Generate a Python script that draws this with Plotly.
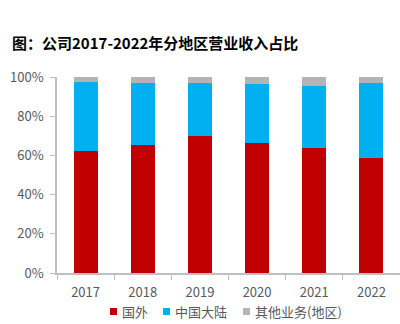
import plotly.graph_objects as go

years = ["2017", "2018", "2019", "2020", "2021", "2022"]
overseas = [0.624, 0.653, 0.699, 0.662, 0.639, 0.585]
mainland = [0.352, 0.317, 0.271, 0.304, 0.317, 0.386]
other = [0.024, 0.030, 0.030, 0.034, 0.044, 0.029]

names = ["国外", "中国大陆", "其他业务(地区)"]
colors = ["#C00000", "#00B0F0", "#B4B4B4"]

font_family = "Noto Sans CJK SC, Open Sans, sans-serif"

fig = go.Figure()
for vals, name, color in zip([overseas, mainland, other], names, colors):
    fig.add_trace(go.Bar(x=years, y=vals, name=name, marker=dict(color=color, line=dict(width=0)),
                         showlegend=False))

# manual legend (compact, like the reference)
legend_x = [110, 163, 243]  # left edge of each square, px
for lx, name, color in zip(legend_x, names, colors):
    fig.add_shape(type="rect", xref="paper", yref="paper",
                  x0=(lx - 57) / 343, x1=(lx + 7 - 57) / 343,
                  y0=(273 - 315) / 196, y1=(273 - 308) / 196,
                  fillcolor=color, line=dict(width=0))
    fig.add_annotation(text=name, xref="paper", yref="paper", x=(lx + 10 - 57) / 343,
                       y=(273 - 311) / 196, xanchor="left", yanchor="middle", showarrow=False,
                       font=dict(size=13, color="#595959"))

fig.update_layout(
    barmode="stack",
    bargap=0.58,
    width=400, height=324,
    margin=dict(l=57, r=0, t=77, b=51),
    paper_bgcolor="white", plot_bgcolor="white",
    font=dict(family=font_family, color="#595959", size=13),
    title=dict(text="<b>图：公司2017-2022年分地区营业收入占比</b>", x=12/400, xanchor="left",
               y=1-44/324, yanchor="middle", xref="container", yref="container",
               font=dict(size=15, color="#000000", family=font_family)),
    yaxis=dict(range=[0, 1], tickformat=".0%", dtick=0.2, showgrid=False, showline=True,
               linecolor="#BFBFBF", linewidth=1.5, ticks="outside", ticklen=5, tickcolor="#BFBFBF",
               zeroline=False, ticklabelstandoff=4, tickfont=dict(size=13, color="#595959")),
    xaxis=dict(showgrid=False, showline=True, linecolor="#BFBFBF", linewidth=1.5,
               ticks="outside", ticklen=5, tickcolor="#BFBFBF", tickson="boundaries",
               ticklabelstandoff=7, tickfont=dict(size=13, color="#595959")),
)

fig.write_html("out.html")
